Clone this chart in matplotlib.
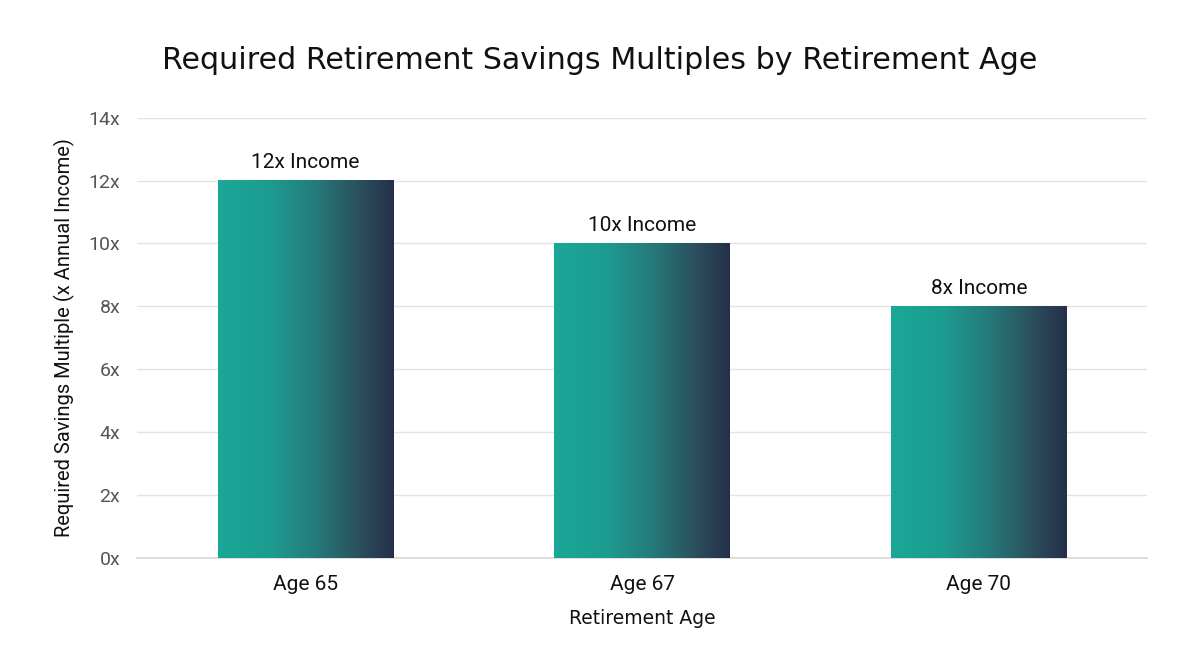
import matplotlib
matplotlib.use('Agg')
import matplotlib.pyplot as plt
import numpy as np
from matplotlib.colors import LinearSegmentedColormap

ages = ['Age 65', 'Age 67', 'Age 70']
multiples = [12, 10, 8]
bar_labels = ['12x Income', '10x Income', '8x Income']
yticks = [0, 2, 4, 6, 8, 10, 12, 14]

# teal -> navy, eased so the teal holds a bit before fading
grad = LinearSegmentedColormap.from_list(
    'tealnavy', [(0.0, '#1aa898'), (0.3, '#1d9b91'), (0.55, '#257b7b'),
                 (0.8, '#2b4f5d'), (1.0, '#24304a')])

fig = plt.figure(figsize=(12, 6.54), dpi=100)
ax = fig.add_axes([0.114, 0.147, 0.842, 0.673])

x = np.arange(len(ages))
bars = ax.bar(x, multiples, width=0.52, color='none', zorder=3)

g = np.linspace(0, 1, 256).reshape(1, -1)
for b in bars:
    x0, y0 = b.get_x(), b.get_y()
    ax.imshow(g, cmap=grad, aspect='auto', zorder=3,
              extent=[x0, x0 + b.get_width(), y0, y0 + b.get_height()])

for xi, v, lab in zip(x, multiples, bar_labels):
    ax.text(xi, v + 0.28, lab, ha='center', va='bottom', fontsize=15,
            family='Roboto', color='#111111')

ax.set_xlim(-0.5, 2.5)
ax.set_ylim(0, 14)
ax.set_yticks(yticks)
ax.set_yticklabels([f'{t}x' for t in yticks], family='Roboto', fontsize=14, color='#555555')
ax.set_xticks(x)
ax.set_xticklabels(ages, family='Roboto', fontsize=15, color='#111111')
ax.tick_params(axis='y', length=0, pad=12)
ax.tick_params(axis='x', length=0, pad=12)
ax.grid(axis='y', color='#e3e3e3', linewidth=1, zorder=0)
ax.axhline(0, color='#d8d8d8', linewidth=1.2, zorder=2, clip_on=False)
for s in ax.spines.values():
    s.set_visible(False)

ax.set_ylabel('Required Savings Multiple (x Annual Income)', family='Roboto',
              fontsize=14.5, color='#111111', labelpad=10)
ax.set_xlabel('Retirement Age', family='DejaVu Sans', fontsize=13.5, color='#111111', labelpad=11)
fig.text(0.5, 0.907, 'Required Retirement Savings Multiples by Retirement Age',
         ha='center', va='center', family='DejaVu Sans', fontsize=21.7, color='#111111')

fig.savefig('out.png', dpi=100, facecolor='white')
